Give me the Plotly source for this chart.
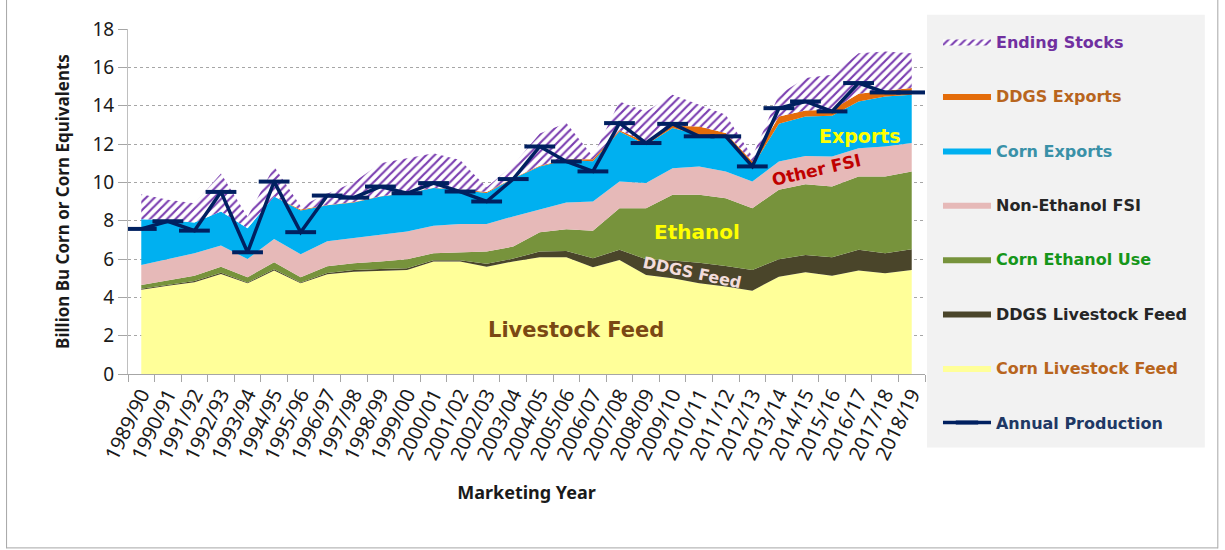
import plotly.graph_objects as go

# Marketing years (category axis)
years = ["1989/90", "1990/91", "1991/92", "1992/93", "1993/94", "1994/95",
         "1995/96", "1996/97", "1997/98", "1998/99", "1999/00", "2000/01",
         "2001/02", "2002/03", "2003/04", "2004/05", "2005/06", "2006/07",
         "2007/08", "2008/09", "2009/10", "2010/11", "2011/12", "2012/13",
         "2013/14", "2014/15", "2015/16", "2016/17", "2017/18", "2018/19"]

# Use components, billion bushels of corn or corn equivalents (stacked bottom to top)
corn_feed = [4.39, 4.61, 4.79, 5.22, 4.73, 5.40, 4.73, 5.20, 5.34, 5.40,
             5.43, 5.87, 5.87, 5.60, 5.87, 6.09, 6.09, 5.57, 5.95, 5.17,
             5.00, 4.73, 4.56, 4.35, 5.08, 5.31, 5.12, 5.40, 5.26, 5.43]
ddgs_feed = [0.06, 0.05, 0.06, 0.06, 0.05, 0.06, 0.05, 0.07, 0.08, 0.08,
             0.09, 0.07, 0.07, 0.15, 0.15, 0.30, 0.33, 0.47, 0.53, 0.82,
             0.92, 1.08, 1.08, 1.08, 0.91, 0.90, 0.97, 1.08, 1.04, 1.08]
corn_ethanol = [0.20, 0.21, 0.27, 0.32, 0.27, 0.37, 0.27, 0.35, 0.36, 0.39,
                0.47, 0.36, 0.41, 0.64, 0.63, 1.01, 1.13, 1.44, 2.17, 2.66,
                3.43, 3.54, 3.53, 3.22, 3.62, 3.69, 3.69, 3.82, 4.00, 4.06]
non_ethanol_fsi = [1.04, 1.12, 1.18, 1.10, 0.95, 1.22, 1.20, 1.31, 1.30, 1.39,
                   1.44, 1.43, 1.48, 1.44, 1.57, 1.20, 1.40, 1.52, 1.39, 1.31,
                   1.39, 1.48, 1.40, 1.39, 1.48, 1.48, 1.57, 1.48, 1.57, 1.48]
corn_exports = [2.39, 2.05, 1.60, 1.78, 1.60, 2.21, 2.28, 1.87, 1.87, 2.00,
                2.00, 1.97, 1.77, 1.62, 1.98, 2.23, 2.22, 2.10, 2.61, 2.00,
                2.09, 1.65, 1.74, 0.79, 1.96, 2.06, 2.12, 2.44, 2.61, 2.52]
ddgs_exports = [0.00, 0.00, 0.00, 0.00, 0.00, 0.00, 0.05, 0.02, 0.02, 0.02,
                0.02, 0.02, 0.02, 0.05, 0.02, 0.04, 0.03, 0.10, 0.07, 0.14,
                0.12, 0.43, 0.26, 0.26, 0.39, 0.31, 0.32, 0.40, 0.30, 0.35]
ending_stocks = [1.30, 1.05, 1.01, 1.98, 0.60, 1.57, 0.17, 0.58, 1.03, 1.72,
                 1.81, 1.80, 1.55, 0.25, 0.68, 1.68, 1.89, 0.15, 1.50, 1.60,
                 1.62, 1.14, 0.95, 0.26, 1.13, 1.69, 1.82, 2.12, 2.05, 1.82]
production = [7.57, 7.97, 7.48, 9.50, 6.35, 10.04, 7.40, 9.31, 9.20, 9.78,
              9.43, 9.96, 9.52, 9.00, 10.17, 11.87, 11.09, 10.57, 13.09, 12.05,
              13.05, 12.40, 12.40, 10.83, 13.87, 14.22, 13.70, 15.18, 14.69, 14.69]

LEG_FONT = "DejaVu Sans"
AX_FONT = "Noto Sans"


def lname(text, color):
    return f'<b><span style="color:{color}">{text}</span></b>'


fig = go.Figure()

layers = [
    # values, fill colour, legend label, legend text colour, legend rank
    (corn_feed, "#FFFF99", "Corn Livestock Feed", "#B8651E", 7),
    (ddgs_feed, "#4A452A", "DDGS Livestock Feed", "#262626", 6),
    (corn_ethanol, "#77933C", "Corn Ethanol Use", "#16961A", 5),
    (non_ethanol_fsi, "#E6B9B8", "Non-Ethanol FSI", "#262626", 4),
    (corn_exports, "#00B0F0", "Corn Exports", "#3A91A8", 3),
    (ddgs_exports, "#E46C0A", "DDGS Exports", "#B8651E", 2),
]

for vals, color, label, tcolor, rank in layers:
    fig.add_trace(go.Scatter(
        x=years, y=vals, stackgroup="use", mode="lines",
        line=dict(width=0, color=color), fillcolor=color,
        name=lname(label, tcolor), legendrank=rank, legendgroup=label,
        hoverinfo="skip",
    ))

fig.add_trace(go.Scatter(
    x=years, y=ending_stocks, stackgroup="use", mode="lines",
    line=dict(width=0, color="#7030A0"), fillcolor="white",
    fillpattern=dict(shape="/", fgcolor="#7A3DB0", bgcolor="white",
                     size=6, solidity=0.36, fillmode="replace"),
    name=lname("Ending Stocks", "#7030A0"), legendrank=1,
    legendgroup="Ending Stocks", hoverinfo="skip",
))

fig.add_trace(go.Scatter(
    x=years, y=production, mode="lines+markers",
    line=dict(color="#002060", width=3.5),
    marker=dict(symbol="line-ew", size=22, color="#002060",
                line=dict(color="#002060", width=4)),
    name=lname("Annual Production", "#203864"), legendrank=8,
    legendgroup="Annual Production", hoverinfo="skip",
))

# pixel geometry of the plotting area
L, R, T, B = 127.5, 925.0, 29.3, 374.5
W, H = 1225, 550


def px(xp):
    return (xp - L) / (R - L)


def py(yp):
    return (B - yp) / (B - T)


annotations = [
    dict(x=26.6, y=18.12, text="<b>End Stocks</b>", font=dict(size=21, color="#002060"),
         bgcolor="white"),
    dict(x=27.06, y=12.43, text="<b>Exports</b>", font=dict(size=19, color="#FFFF00")),
    dict(x=25.4, y=10.66, text="<b>Other FSI</b>", font=dict(size=17, color="#C00000"),
         textangle=-13),
    dict(x=20.93, y=7.43, text="<b>Ethanol</b>", font=dict(size=20, color="#FFFF00")),
    dict(x=20.73, y=5.29, text="<b>DDGS Feed</b>", font=dict(size=16, color="#F2DCDB"),
         textangle=12),
    dict(x=16.37, y=2.27, text="<b>Livestock Feed</b>", font=dict(size=21, color="#7B4813")),
]
for a in annotations:
    a.update(xref="x", yref="y", showarrow=False)
    a["font"]["family"] = LEG_FONT

shapes = [
    # legend panel
    dict(type="rect", xref="paper", yref="paper", layer="below",
         x0=px(927), x1=px(1205), y0=py(448), y1=py(15),
         fillcolor="#F2F2F2", line=dict(width=0)),
    # outer frame
    dict(type="line", xref="paper", yref="paper", x0=px(6), x1=px(6),
         y0=py(549), y1=py(-2), line=dict(color="#A6A6A6", width=1)),
    dict(type="line", xref="paper", yref="paper", x0=px(1218), x1=px(1218),
         y0=py(549), y1=py(-2), line=dict(color="#A6A6A6", width=1)),
    dict(type="line", xref="paper", yref="paper", x0=px(6), x1=px(1218),
         y0=py(548.5), y1=py(548.5), line=dict(color="#A6A6A6", width=1)),
]

fig.update_layout(
    width=W, height=H,
    margin=dict(l=L, r=W - R, t=T, b=H - B, autoexpand=False),
    paper_bgcolor="white", plot_bgcolor="white",
    showlegend=True,
    legend=dict(x=px(938), y=py(25), xanchor="left", yanchor="top",
                bgcolor="rgba(0,0,0,0)", traceorder="grouped",
                tracegroupgap=30.6, itemwidth=48, maxheight=520,
                font=dict(family=LEG_FONT, size=16, color="#262626")),
    annotations=annotations,
    shapes=shapes,
    xaxis=dict(
        type="category", range=[-0.5, 29.5], automargin=False,
        showgrid=False, showline=True, linecolor="#A6A6A6", linewidth=1,
        ticks="outside", tickson="boundaries", ticklen=7, tickcolor="#A6A6A6",
        tickangle=-64, tickfont=dict(family=AX_FONT, size=20, color="#1a1a1a"),
        title=dict(text="<b>Marketing Year</b>", standoff=22,
                   font=dict(family=AX_FONT, size=18, color="#1a1a1a")),
    ),
    yaxis=dict(
        range=[0, 18], dtick=2, automargin=False,
        showgrid=True, gridcolor="#A6A6A6", griddash="dot", gridwidth=1,
        showline=True, linecolor="#BFBFBF", linewidth=1,
        ticks="outside", ticklen=9, tickcolor="#A6A6A6",
        tickfont=dict(family=AX_FONT, size=19, color="#1a1a1a"),
        zeroline=False,
        title=dict(text="<b>Billion Bu Corn or Corn Equivalents</b>", standoff=18,
                   font=dict(family=AX_FONT, size=17, color="#1a1a1a")),
    ),
)

fig.write_html("out.html")
